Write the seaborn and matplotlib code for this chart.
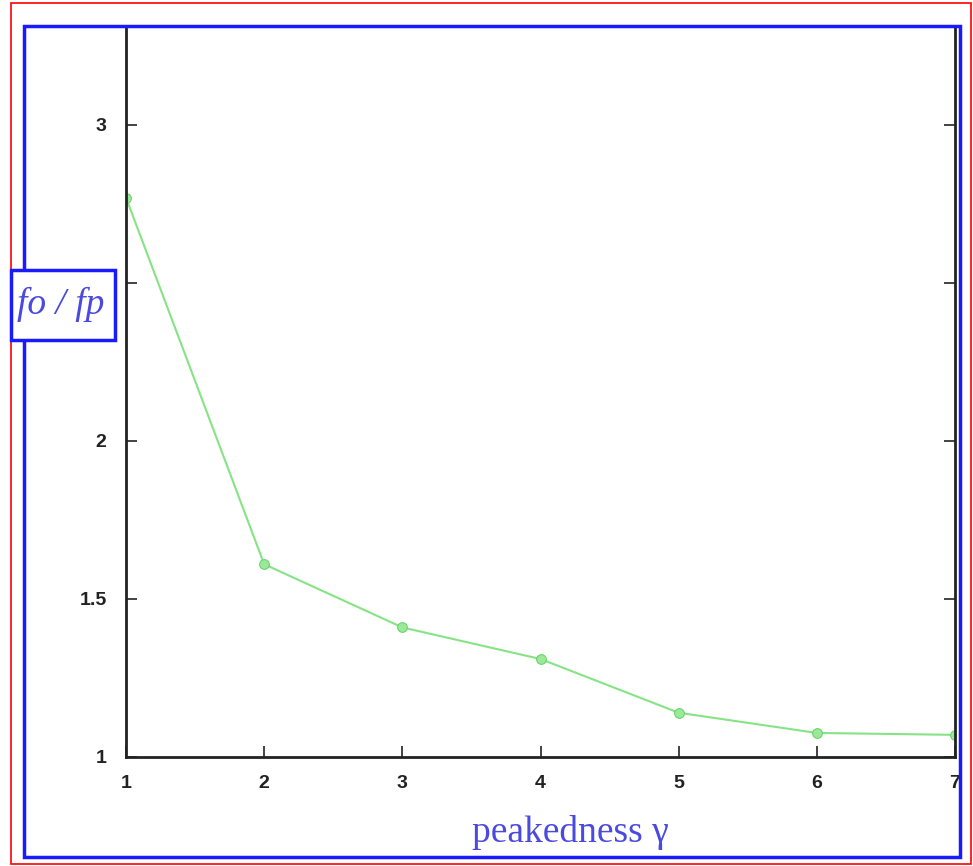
import matplotlib
matplotlib.use("Agg")
import matplotlib.pyplot as plt
import seaborn as sns
import pandas as pd
from matplotlib.patches import Rectangle

# Data
peakedness = [1, 2, 3, 4, 5, 6, 7]
ratio = [2.77, 1.61, 1.41, 1.31, 1.14, 1.076, 1.07]
x_ticks = [1, 2, 3, 4, 5, 6, 7]
y_ticks = [1, 1.5, 2, 2.5, 3]
y_tick_labels = ["1", "1.5", "2", "", "3"]

df = pd.DataFrame({"peakedness": peakedness, "ratio": ratio})

sns.set_style("white")
plt.rcParams["font.family"] = ["Liberation Sans", "DejaVu Sans"]

fig = plt.figure(figsize=(9.73, 8.66), dpi=100)
ax = fig.add_axes([0.1295, 0.1259, 0.8520, 0.8429])

sns.lineplot(data=df, x="peakedness", y="ratio", ax=ax, color="#86e386",
             marker="o", markersize=7, markerfacecolor="#9be89b",
             markeredgecolor="#66d466", linewidth=1.5)

ax.set_xlim(1, 7)
ax.set_ylim(1, 3.31)
ax.set_xticks(x_ticks)
ax.set_xticklabels([str(t) for t in x_ticks])
ax.set_yticks(y_ticks)
ax.set_yticklabels(y_tick_labels)
ax.tick_params(direction="in", length=8, width=1.2, colors="#222222",
               labelsize=14, right=True, top=False, bottom=True, left=True)
ax.tick_params(axis="x", pad=13)
ax.tick_params(axis="y", pad=14)
for lbl in ax.get_xticklabels() + ax.get_yticklabels():
    lbl.set_fontweight("bold")
ax.set_xlabel("")
ax.set_ylabel("")
for side in ["left", "bottom", "right"]:
    ax.spines[side].set_color("#222222")
    ax.spines[side].set_linewidth(2)
ax.spines["top"].set_visible(False)

# Outer frames
fig.patches.append(Rectangle((11 / 973, 1 - 864 / 866), 960 / 973, 861 / 866,
                             transform=fig.transFigure, fill=False,
                             edgecolor="red", linewidth=1.2, zorder=0))
fig.patches.append(Rectangle((24 / 973, 1 - 857 / 866), 936 / 973, 831 / 866,
                             transform=fig.transFigure, fill=False,
                             edgecolor="#1a1aff", linewidth=2.5, zorder=5))
# box behind the y label
fig.patches.append(Rectangle((11 / 973, 1 - 340 / 866), 104 / 973, 70 / 866,
                             transform=fig.transFigure, facecolor="white",
                             edgecolor="#1a1aff", linewidth=2.5, zorder=6))

fig.text(61 / 973, 1 - 304 / 866, "fo / fp", color="#4a4ae0", fontsize=27,
         family=["Liberation Serif", "DejaVu Serif"], style="italic",
         ha="center", va="center", zorder=7)
fig.text(570 / 973, 1 - 832 / 866, "peakedness γ", color="#4a4ae0",
         fontsize=27, family=["Liberation Serif", "DejaVu Serif"],
         ha="center", va="center")

fig.savefig("out.png", dpi=100)
